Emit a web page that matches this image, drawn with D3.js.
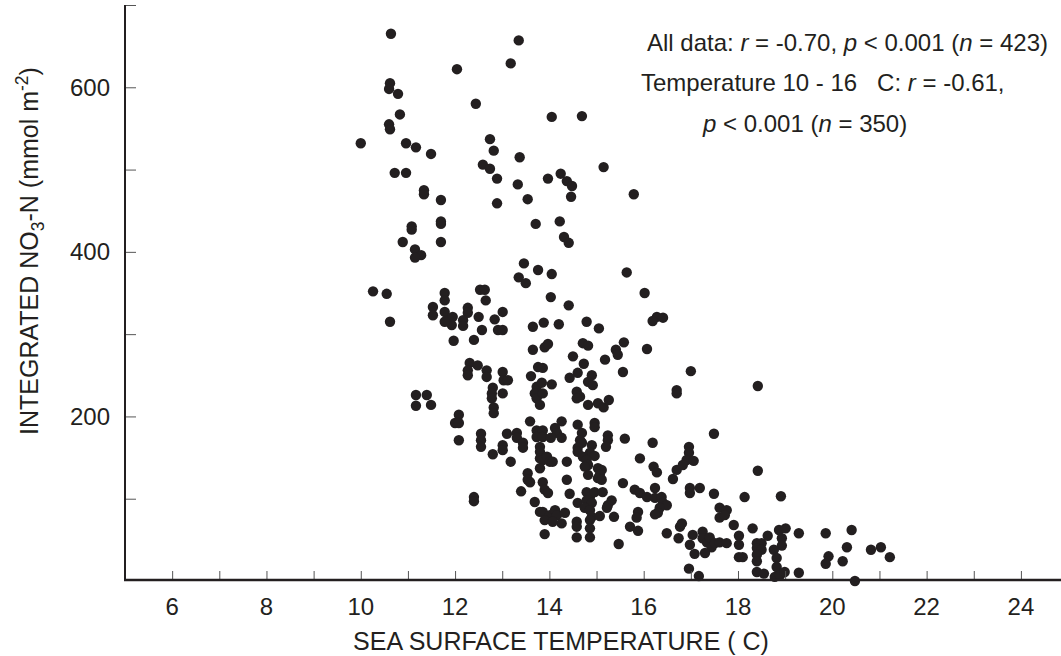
<!DOCTYPE html>
<html>
<head>
<meta charset="utf-8">
<script src="https://cdn.jsdelivr.net/npm/d3@7"></script>
<style>
  html, body { margin: 0; padding: 0; background: #fff; }
  svg { display: block; font-family: "Liberation Sans", Arial, Helvetica, sans-serif; }
</style>
</head>
<body>
<svg id="chart" width="1061" height="656"></svg>
<script>
// [sea surface temperature (°C), integrated NO3-N (mmol m-2)]
const samples = [
[10.64,665],[13.35,657],[13.18,629],[12.04,622],[10.62,605],[10.60,598],[10.79,592],[12.44,580],[10.83,567],[10.60,555],
[10.62,549],[10.00,532],[10.96,532],[11.17,527],[11.49,519],[10.72,496],[10.96,496],[11.34,475],[11.34,470],[11.70,463],
[12.74,537],[12.82,523],[13.37,515],[12.59,506],[12.74,501],[12.89,489],[13.33,482],[12.89,459],[13.54,464],
[14.05,564],[14.69,565],[15.15,503],[13.97,489],[14.24,495],[14.37,486],[14.48,480],[14.46,467],[15.79,470],
[11.08,431],[11.08,427],[11.70,437],[11.70,434],[13.71,434],[10.89,412],[11.70,412],[11.15,403],[11.28,396],[11.15,393],
[13.46,386],[13.76,378],[13.35,369],[13.50,362],[10.26,352],[10.55,349],[10.62,315],[11.78,350],[11.78,341],[12.53,354],
[12.63,354],[12.65,341],[11.53,333],[11.53,323],[11.78,327],[11.83,317],[11.95,321],[11.93,311],[11.78,315],[12.27,332],
[12.27,326],[12.17,317],[12.17,310],[12.50,321],[13.01,327],[12.84,318],[12.91,305],[13.01,305],[12.57,305],[13.65,309],
[11.97,292],[12.40,293],[13.65,281],[12.31,265],[12.48,262],[12.27,256],[12.27,250],[12.67,256],[12.67,248],[13.01,254],
[13.03,244],[13.12,244],[13.61,249],[13.76,260],[12.80,235],[13.73,236],
[14.22,437],[14.31,418],[14.41,411],[14.05,373],[15.64,375],[14.03,345],[16.02,350],[14.41,335],[16.28,321],[16.41,320],
[16.19,316],[13.88,314],[14.20,312],[14.79,315],[15.05,307],[13.90,284],[13.97,288],[14.71,289],[14.82,286],[15.58,290],
[15.41,281],[15.45,275],[16.07,282],[14.50,273],[15.18,269],[14.73,264],[13.86,259],[17.00,255],[15.56,254],[14.60,253],
[14.43,247],[14.90,250],[14.82,242],[14.92,238],[13.84,241],[14.05,239],[16.70,232],[18.42,237],
[11.17,226],[11.40,226],[11.17,213],[11.49,214],[12.78,228],[13.01,228],[12.78,222],[12.82,211],[12.82,204],[13.69,228],
[13.73,222],[12.08,202],[12.00,192],[12.08,192],[12.08,171],[12.55,179],[12.55,171],[12.55,163],[12.80,154],[13.01,165],
[13.01,159],[13.18,145],[13.10,179],[13.31,180],[13.31,174],[13.59,194],[13.44,168],[13.44,162],[13.54,131],[13.54,123],
[13.40,109],[13.69,96],[12.40,102],[12.40,97],[13.80,84],
[13.86,228],[13.80,214],[14.58,230],[14.65,224],[14.58,222],[14.82,214],[15.03,216],[15.15,211],[15.26,220],[16.70,228],
[14.26,194],[14.12,186],[14.16,180],[14.60,190],[14.96,192],[14.96,187],[14.69,180],[14.65,171],[14.69,168],[13.73,183],
[13.86,183],[13.73,175],[13.86,175],[14.03,174],[14.26,174],[15.24,177],[15.24,171],[15.60,173],[16.19,168],[17.49,179],
[14.60,162],[14.60,157],[14.90,165],[14.86,156],[14.96,152],[14.71,151],[15.20,163],[13.80,163],[13.80,157],[13.80,149],
[13.86,147],[13.95,151],[14.01,145],[14.07,145],[13.80,137],[14.37,145],[14.79,147],[14.82,141],[14.75,139],[14.82,129],
[15.03,137],[15.11,135],[15.07,129],[15.03,125],[15.11,123],[15.92,149],[16.21,139],[16.28,132],[16.70,135],[16.96,163],
[16.96,156],[16.91,147],[16.83,141],[17.06,146],[16.62,124],[15.56,119],[14.37,123],[13.59,120],[13.86,120],[13.90,111],
[13.97,107],[14.43,106],[14.60,95],[14.79,108],[14.86,102],[14.79,98],[14.90,95],[14.96,108],[15.13,108],[15.32,98],
[15.24,92],[15.22,89],[14.75,89],[14.86,86],[14.90,78],[14.86,74],[15.07,79],[15.37,78],[15.81,111],[15.92,107],
[16.07,102],[16.24,113],[16.24,101],[16.38,102],[16.41,95],[16.49,92],[16.34,89],[16.30,83],[16.24,81],[16.98,113],
[16.98,107],[17.19,113],[17.49,106],[17.61,89],[17.76,86],[17.61,77],[17.72,80],[15.88,84],[15.85,77],[13.86,84],
[14.01,80],[14.12,86],[14.16,80],[14.26,70],[14.33,83],[13.90,74],[14.07,72],[14.58,72],[14.58,66],[14.86,64],
[14.86,53],[14.58,53],[13.90,57],[15.71,66],[15.88,61],[16.49,58],[15.47,45],[16.77,66],[16.81,70],[16.74,52],
[16.98,44],[17.08,33],[17.04,56],[17.25,60],[17.25,52],[17.34,47],[17.40,53],[17.44,41],[17.51,46],[17.61,47],
[17.30,34],[16.96,15],[17.17,6],[17.76,46],
[18.42,134],[18.14,102],[18.91,103],[17.91,68],[18.31,64],[18.02,55],[18.02,44],[18.02,29],[18.10,29],[18.40,46],
[18.50,46],[18.40,40],[18.50,38],[18.40,32],[18.40,24],[18.63,55],[18.87,62],[19.01,64],[18.93,52],[18.93,43],
[18.76,38],[18.82,28],[18.82,17],[18.40,11],[18.55,9],[18.78,5],[18.89,7],[18.99,11],[19.29,58],[19.29,10],
[19.86,58],[19.92,30],[19.86,21],[20.41,62],[20.31,41],[20.22,24],[20.48,0],[20.82,38],[21.03,41],[21.22,29]
];

const xDomain = [5, 24.85];
const yDomain = [0, 700];
const xTickValues = [6,7,8,9,10,11,12,13,14,15,16,17,18,19,20,21,22,23,24];
const xLabelValues = [6,8,10,12,14,16,18,20,22,24];
const yTickValues = [100,200,300,400,500,600,700];
const yLabelValues = [200,400,600];

const svg = d3.select("#chart");
const plotL = 125, plotR = 1061, plotT = 5, plotB = 581;
const x = d3.scaleLinear().domain(xDomain).range([plotL, plotR]);
const y = d3.scaleLinear().domain(yDomain).range([plotB, plotT]);
const ink = "#231f20";
const tickFs = 24, titleFs = 25, noteFs = 24;

// Points
svg.append("g").selectAll("circle").data(samples).join("circle")
  .attr("cx", d => x(d[0])).attr("cy", d => y(d[1])).attr("r", 5.2)
  .attr("fill", ink);

// X axis
const xAxis = svg.append("g").attr("transform", `translate(0,${plotB})`)
  .call(d3.axisTop(x).tickValues(xTickValues).tickSize(10).tickFormat(""));
xAxis.select(".domain").remove();
xAxis.selectAll(".tick line").attr("stroke", "#555").attr("stroke-width", 1);
svg.append("g").selectAll("text").data(xLabelValues).join("text")
  .attr("x", d => x(d)).attr("y", plotB + 34)
  .attr("text-anchor", "middle").attr("font-size", tickFs).attr("fill", ink)
  .text(d => d);

// Y axis
const yAxis = svg.append("g").attr("transform", `translate(${plotL},0)`)
  .call(d3.axisRight(y).tickValues(yTickValues).tickSize(11).tickFormat(""));
yAxis.select(".domain").remove();
yAxis.selectAll(".tick line").attr("stroke", "#555").attr("stroke-width", 1);
svg.append("g").selectAll("text").data(yLabelValues).join("text")
  .attr("x", plotL - 15).attr("y", d => y(d) + 8.5)
  .attr("text-anchor", "end").attr("font-size", tickFs).attr("fill", ink)
  .text(d => d);

// axis lines
svg.append("line").attr("x1", plotL).attr("x2", plotL).attr("y1", plotT).attr("y2", plotB)
  .attr("stroke", ink).attr("stroke-width", 2);
svg.append("line").attr("x1", plotL - 1).attr("x2", plotR).attr("y1", plotB - 1).attr("y2", plotB - 1)
  .attr("stroke", ink).attr("stroke-width", 2.5);

// Axis titles
svg.append("text").attr("x", 561).attr("y", 650)
  .attr("text-anchor", "middle").attr("font-size", titleFs).attr("fill", ink)
  .text("SEA SURFACE TEMPERATURE ( C)");

const yt = svg.append("text").attr("transform", "translate(38,251) rotate(-90)")
  .attr("text-anchor", "middle").attr("font-size", titleFs).attr("fill", ink);
yt.append("tspan").text("INTEGRATED NO");
yt.append("tspan").attr("font-size", titleFs * 0.7).attr("dy", 6).text("3");
yt.append("tspan").attr("dy", -6).text("-N (mmol  m");
yt.append("tspan").attr("font-size", titleFs * 0.7).attr("dy", -10).text("-2");
yt.append("tspan").attr("dy", 10).text(")");

// Annotation
function richLine(xp, yp, parts) {
  const t = svg.append("text").attr("x", xp).attr("y", yp).attr("font-size", noteFs).attr("fill", ink)
    .attr("xml:space", "preserve");
  parts.forEach(p => {
    const s = t.append("tspan").text(p[0]);
    if (p[1]) s.attr("font-style", "italic");
  });
}
richLine(647, 51, [["All data: "],["r",1],[" = -0.70, "],["p",1],[" < 0.001 ("],["n",1],[" = 423)"]]);
richLine(641, 91, [["Temperature 10 - 16   C: "],["r",1],[" = -0.61,"]]);
richLine(703, 132, [["p",1],[" < 0.001 ("],["n",1],[" = 350)"]]);
</script>
</body>
</html>
